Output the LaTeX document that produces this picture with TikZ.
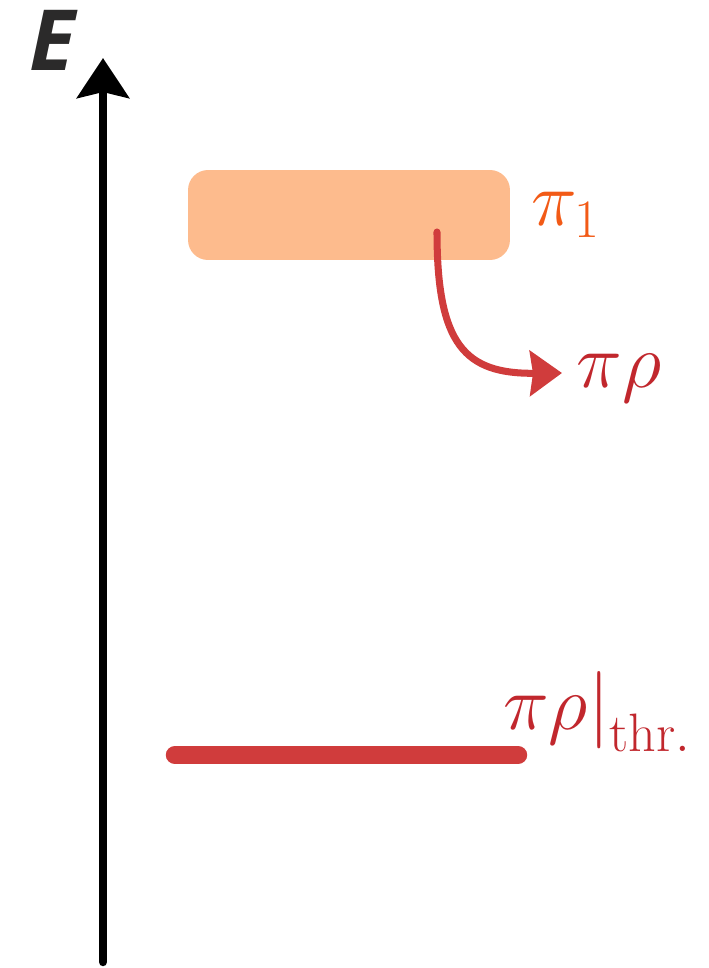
\RequirePackage{fix-cm}
\documentclass[tikz,border=0pt]{standalone}
\usepackage{fontspec}
\newfontfamily\axisfont{Open Sans}
\usepackage{tikz}
\usetikzlibrary{arrows.meta}
\usepackage{xcolor}
\definecolor{boxorange}{HTML}{FDBB8D}
\definecolor{txtorange}{HTML}{F25A16}
\definecolor{decred}{HTML}{D03C3C}
\definecolor{txtred}{HTML}{C1272D}
\definecolor{axisgray}{HTML}{2B2A2A}
\tikzset{
  energyaxis/.style={line width=4.8pt, draw=black, line cap=round,
    -{Stealth[length=0.8cm, width=1.04cm, inset=0.12cm]}},
  statebox/.style={fill=boxorange, rounded corners=0.4cm, minimum width=6.44cm,
    minimum height=1.8cm, inner sep=0pt},
  decay/.style={line width=4pt, draw=decred, line cap=round,
    -{Stealth[length=0.64cm, width=0.9cm, inset=0.06cm]}},
  thrline/.style={line width=10.5pt, draw=decred, line cap=round},
  statelabel/.style={font=\fontsize{44}{52}\selectfont, inner sep=0pt},
}
\begin{document}
\begin{tikzpicture}[x=0.02cm, y=-0.02cm]
  \useasboundingbox (0,0) rectangle (709,968);
  % Energieachse
  \coordinate (axisbot) at (103,962);
  \coordinate (axistop) at (103,58);
  \draw[energyaxis] (axisbot) -- (axistop);
  \node[text=axisgray, font=\axisfont\fontsize{48}{56}\selectfont\bfseries\itshape,
    inner sep=0pt] (elabel) at (52,40) {E};
  % pi_1 Zustand
  \node[statebox] (pione) at (349,215) {};
  \node[statelabel, text=txtorange] (pionelabel) at (566,215) {$\pi_1$};
  % Zerfall nach pi rho
  \coordinate (decaystart) at (437,232);
  \node[statelabel, text=txtred] (pirho) at (619,378) {$\pi\rho$};
  \draw[decay] (decaystart) .. controls (437,345) and (465,374) .. (562,373);
  % Schwelle
  \coordinate (thrleft) at (175,755);
  \coordinate (thrright) at (518,755);
  \draw[thrline] (thrleft) -- (thrright);
  \node[statelabel, text=txtred, anchor=west] (thrlabel) at (503,712)
    {$\pi\rho\big|_{\mathrm{thr.}}$};
\end{tikzpicture}
\end{document}
